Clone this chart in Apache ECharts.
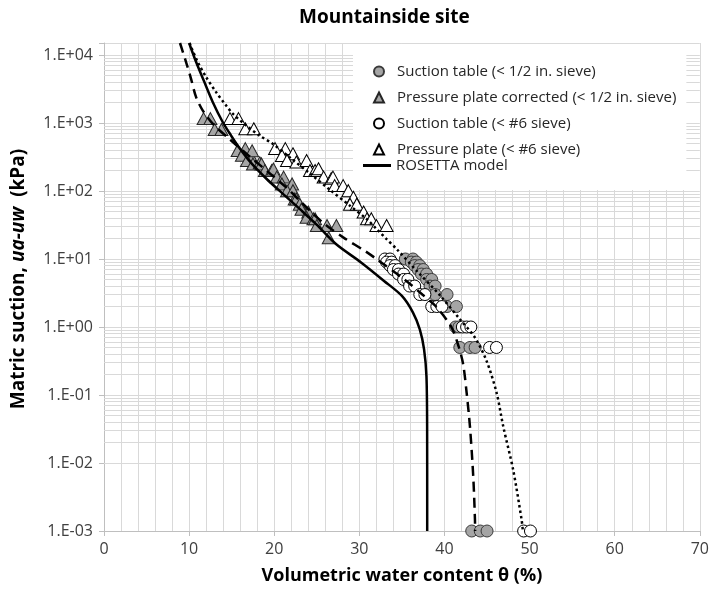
<!DOCTYPE html>
<html>
<head>
<meta charset="utf-8">
<title>Mountainside site</title>
<script src="https://cdn.jsdelivr.net/npm/echarts@6/dist/echarts.min.js"></script>
<style>
  html, body { margin: 0; padding: 0; background: #ffffff; }
  #chart { width: 712px; height: 603px; }
</style>
</head>
<body>
<div id="chart"></div>
<script>
// Soil-water characteristic data, Mountainside site.
// Each series: volumetric water content θ (%) and matric suction ua-uw (kPa).

// Suction table, material passing the 1/2 in. sieve
const suctionHalfInTheta = [35.4, 36.3, 36.1, 36.7, 36.5, 37.1, 36.9, 37.5, 37.3, 37.9, 37.9, 38.5,
  38.3, 38.9, 38.9, 40.3, 40.3, 41.4, 41.3, 41.7, 41.8, 43.0, 43.6, 43.2, 44.2, 45.0];
const suctionHalfInKpa = [10, 10, 9, 9, 8, 8, 7, 7, 6, 6, 5, 5,
  4, 4, 3, 3, 2, 2, 1, 1, 0.5, 0.5, 0.5, 0.001, 0.001, 0.001];

// Pressure plate (corrected), material passing the 1/2 in. sieve
const plateHalfInTheta = [11.7, 12.5, 13.0, 13.8, 15.7, 16.6, 16.2, 17.2, 17.4, 16.8, 17.5, 18.3,
  18.5, 18.9, 19.7, 19.9, 20.3, 21.1, 20.9, 22.1, 21.5, 22.2, 22.4, 22.6, 23.0, 23.2, 24.0, 23.8,
  24.6, 24.8, 25.0, 26.2, 27.3, 26.4];
const plateHalfInKpa = [1160, 1160, 800, 800, 395, 420, 335, 335, 390, 280, 250, 260,
  250, 200, 200, 210, 160, 160, 127, 127, 101, 101, 76, 76, 64, 54, 49, 41,
  39, 39, 31, 31, 31, 20.5];

// Suction table, material passing the #6 sieve
const suctionNo6Theta = [33.0, 33.6, 33.2, 33.8, 33.6, 34.2, 34.0, 34.6, 34.6, 35.2, 35.2, 35.7,
  35.9, 36.5, 37.1, 37.7, 38.5, 39.1, 39.7, 42.1, 42.6, 43.1, 45.3, 46.1, 49.3, 50.1];
const suctionNo6Kpa = [10, 10, 9, 9, 8, 8, 7, 7, 6, 6, 5, 5,
  4, 4, 3, 3, 2, 2, 2, 1, 1, 1, 0.5, 0.5, 0.001, 0.001];

// Pressure plate, material passing the #6 sieve
const plateNo6Theta = [14.8, 15.8, 16.6, 17.6, 20.1, 21.3, 20.9, 22.2, 21.5, 22.6, 23.8, 24.2,
  24.8, 25.2, 25.8, 26.7, 26.9, 27.1, 28.1, 28.7, 29.3, 28.9, 29.7, 30.5, 30.9, 31.4, 32.0, 33.2];
const plateNo6Kpa = [1160, 1160, 820, 820, 420, 420, 333, 352, 281, 266, 281, 200,
  200, 212, 160, 152, 160, 120, 120, 101, 81, 64, 64, 49, 39, 39, 31, 31];

// ROSETTA model curve
const rosettaTheta = [10.0, 10.81, 11.78, 12.77, 13.94, 14.92, 15.70, 17.15, 19.11, 21.06, 23.02,
  24.98, 27.25, 30.2, 32.9, 35.0, 36.3, 37.1, 37.6, 37.88, 37.96, 37.97];
const rosettaKpa = [15000, 7935, 4025, 2040, 1034, 656, 467, 270, 150, 90, 54,
  32, 16.6, 8.9, 4.76, 2.86, 1.63, 0.92, 0.47, 0.189, 0.035, 0.001];

// Fitted curve, 1/2 in. sieve material (dashed)
const fitHalfInTheta = [8.93, 9.63, 10.22, 10.81, 11.59, 12.77, 14.6, 17.0, 18.5, 20.0, 21.5, 23.0,
  24.5, 26.0, 28.1, 30.86, 32.0, 35.3, 37.4, 39.0, 40.8, 41.7, 42.2, 42.6, 42.99, 43.38, 43.58, 43.6];
const fitHalfInKpa = [15000, 7935, 4500, 2418, 1534, 976, 600, 330, 230, 160, 110, 72,
  47, 32, 20.8, 12.6, 10, 5, 3, 2, 1, 0.5, 0.28, 0.108, 0.0346, 0.0063, 0.00146, 0.001];

// Fitted curve, #6 sieve material (dotted)
const fitNo6Theta = [10.05, 10.22, 11.0, 11.98, 13.15, 14.33, 15.12, 16.68, 18.24, 19.81, 21.85,
  24.2, 26.54, 28.89, 30.86, 32.03, 33.2, 34.38, 36.88, 39.46, 41.81, 43.58, 44.95, 46.12, 46.9,
  48.07, 49.06, 49.21];
const fitNo6Kpa = [15000, 13220, 7935, 4770, 2866, 1817, 1371, 921, 656, 495, 310,
  180, 104, 60.7, 38.7, 27.6, 19.6, 14.0, 6.4, 2.93, 1.30, 0.697, 0.315, 0.108, 0.0346,
  0.0079, 0.00146, 0.001];

// Axis tick positions
const xTicks = [0, 10, 20, 30, 40, 50, 60, 70];
const yDecades = [1e-3, 1e-2, 1e-1, 1, 10, 100, 1000, 10000];

const pairs = (xs, ys) => xs.map((x, i) => [x, ys[i]]);

// Log-scale minor gridlines at 2..9 within each decade
const minorGridKpa = [];
yDecades.slice(0, -1).forEach(d => {
  for (let m = 2; m <= 9; m++) minorGridKpa.push(+(m * d).toPrecision(3));
});

const FONT = '"Open Sans", Lato, "DejaVu Sans", sans-serif';
const GRID_COLOR = '#d9d9d9';
const AXIS_COLOR = '#bfbfbf';
const GRAY_FILL = '#a5a5a5';

function sciLabel(v) {
  const lg = Math.log10(v);
  const e = Math.round(lg);
  if (Math.abs(lg - e) > 1e-6) return '';
  return '1.E' + (e < 0 ? '-' : '+') + String(Math.abs(e)).padStart(2, '0');
}

const chart = echarts.init(document.getElementById('chart'), null, { renderer: 'canvas' });

const names = {
  s1: 'Suction table (< 1/2 in. sieve)',
  p1: 'Pressure plate corrected (< 1/2 in. sieve)',
  s6: 'Suction table (< #6 sieve)',
  p6: 'Pressure plate (< #6 sieve)',
  ro: 'ROSETTA model'
};

const legendText = { fontFamily: FONT, fontSize: 15, color: '#262626' };

chart.setOption({
  animation: false,
  backgroundColor: '#ffffff',
  title: {
    text: 'Mountainside site',
    left: 294,
    top: 3,
    textStyle: { fontFamily: FONT, fontSize: 19, fontWeight: 'bold', color: '#000000' }
  },
  grid: { left: 104, right: 12, top: 43, bottom: 72, containLabel: false },
  legend: [
    {
      data: [
        { name: names.s1, icon: 'circle' },
        { name: names.p1, icon: 'triangle' },
        { name: names.s6, icon: 'circle' },
        { name: names.p6, icon: 'triangle' }
      ],
      orient: 'vertical',
      left: 353,
      top: 44,
      padding: [20, 10, 33, 20],
      itemWidth: 10,
      itemHeight: 10,
      itemGap: 11,
      backgroundColor: '#ffffff',
      selectedMode: false,
      textStyle: Object.assign({ padding: [0, 0, 0, 8] }, legendText),
      z: 4
    },
    {
      data: [{ name: names.ro, icon: 'rect' }],
      orient: 'vertical',
      left: 363,
      top: 158,
      padding: 0,
      itemWidth: 28,
      itemHeight: 3,
      selectedMode: false,
      textStyle: legendText,
      z: 5
    }
  ],
  xAxis: {
    type: 'value',
    min: xTicks[0],
    max: xTicks[xTicks.length - 1],
    interval: 10,
    name: 'Volumetric water content θ (%)',
    nameLocation: 'middle',
    nameGap: 36,
    nameTextStyle: { fontFamily: FONT, fontSize: 18, fontWeight: 'bold', color: '#000000' },
    axisLine: { show: true, lineStyle: { color: AXIS_COLOR, width: 1 } },
    axisTick: { show: true, length: 5, lineStyle: { color: AXIS_COLOR } },
    axisLabel: { fontFamily: FONT, fontSize: 16, color: '#404040', margin: 10 },
    splitLine: { show: true, lineStyle: { color: GRID_COLOR, width: 1 } },
    minorTick: { show: false, splitNumber: 5 },
    minorSplitLine: { show: true, lineStyle: { color: GRID_COLOR, width: 1 } }
  },
  yAxis: {
    type: 'log',
    logBase: 10,
    min: yDecades[0],
    max: 15000,
    name: '{b|Matric suction, }{i|ua-uw}{b|  (kPa)}',
    nameLocation: 'middle',
    nameRotate: 90,
    nameGap: 76,
    nameTextStyle: {
      padding: [0, 0, 0, 16],
      rich: {
        b: { fontFamily: FONT, fontSize: 19, fontWeight: 'bold', color: '#000000' },
        i: { fontFamily: FONT, fontSize: 19, fontWeight: 'bold', fontStyle: 'italic', color: '#000000' }
      }
    },
    axisLine: { show: true, lineStyle: { color: AXIS_COLOR, width: 1 } },
    axisTick: { show: true, length: 5, lineStyle: { color: AXIS_COLOR } },
    axisLabel: { fontFamily: FONT, fontSize: 16, color: '#404040', margin: 11, formatter: sciLabel },
    splitLine: { show: true, lineStyle: { color: GRID_COLOR, width: 1 } }
  },
  series: [
    {
      name: names.s1,
      type: 'scatter',
      symbol: 'circle',
      symbolSize: 12,
      clip: false,
      z: 3,
      itemStyle: { color: GRAY_FILL, borderColor: '#3a3a3a', borderWidth: 1, opacity: 1 },
      data: pairs(suctionHalfInTheta, suctionHalfInKpa)
    },
    {
      name: names.p1,
      type: 'scatter',
      symbol: 'triangle',
      symbolSize: [13, 12],
      clip: false,
      z: 3,
      itemStyle: { color: GRAY_FILL, borderColor: '#262626', borderWidth: 1, opacity: 1 },
      data: pairs(plateHalfInTheta, plateHalfInKpa)
    },
    {
      name: names.s6,
      type: 'scatter',
      symbol: 'circle',
      symbolSize: 12,
      clip: false,
      z: 3,
      itemStyle: { color: '#ffffff', borderColor: '#000000', borderWidth: 1, opacity: 1 },
      data: pairs(suctionNo6Theta, suctionNo6Kpa)
    },
    {
      name: names.p6,
      type: 'scatter',
      symbol: 'triangle',
      symbolSize: [13, 12],
      clip: false,
      z: 3,
      itemStyle: { color: '#ffffff', borderColor: '#000000', borderWidth: 1, opacity: 1 },
      data: pairs(plateNo6Theta, plateNo6Kpa)
    },
    {
      name: names.ro,
      type: 'line',
      symbol: 'none',
      smooth: 0.3,
      z: 4,
      lineStyle: { color: '#000000', width: 2.5, type: 'solid' },
      itemStyle: { color: '#000000' },
      data: pairs(rosettaTheta, rosettaKpa),
      markLine: {
        silent: true,
        z: 1,
        symbol: ['none', 'none'],
        label: { show: false },
        emphasis: { disabled: true },
        animation: false,
        lineStyle: { color: GRID_COLOR, width: 1, type: 'solid' },
        data: minorGridKpa.map(v => ({ yAxis: v }))
      }
    },
    {
      name: 'Fit (< 1/2 in. sieve)',
      type: 'line',
      symbol: 'none',
      smooth: 0.3,
      z: 4,
      lineStyle: { color: '#000000', width: 2.5, type: [10, 6] },
      data: pairs(fitHalfInTheta, fitHalfInKpa)
    },
    {
      name: 'Fit (< #6 sieve)',
      type: 'line',
      symbol: 'none',
      smooth: 0.3,
      z: 4,
      lineStyle: { color: '#000000', width: 2.5, type: [2.5, 3] },
      data: pairs(fitNo6Theta, fitNo6Kpa)
    }
  ]
});
</script>
</body>
</html>
